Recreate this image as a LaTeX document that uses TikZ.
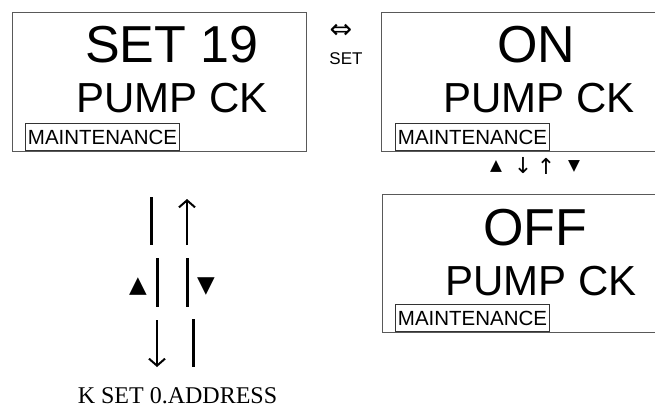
\documentclass[tikz,border=0pt]{standalone}
\usepackage{fontspec}
\setmainfont{Liberation Serif}
\setsansfont{Liberation Sans}
\newfontfamily\symfont{DejaVu Sans}
\usetikzlibrary{arrows.meta, positioning}

\tikzset{
  lcd/.style={draw=black!65, line width=1.4pt, anchor=north west},
  maint/.style={draw=black!80, line width=0.9pt, inner xsep=2.5pt, minimum height=27pt,
    anchor=south west, font=\sffamily\fontsize{20.5}{20.5}\selectfont},
  bigtxt/.style={anchor=base, font=\sffamily\fontsize{52}{52}\selectfont},
  midtxt/.style={anchor=base, font=\sffamily\fontsize{42}{42}\selectfont},
  keysym/.style={inner sep=0pt, font=\symfont\fontsize{#1}{#1}\selectfont},
  bar/.style={line width=3pt},
  arr/.style={line width=2pt, -{Straight Barb[length=7pt, width=16pt]}},
}

\begin{document}
\begin{tikzpicture}[x=1pt, y=-1pt]
  \clip (0,0) rectangle (655,409);

  % display: address
  \node[lcd, minimum width=294pt, minimum height=139pt] (setbox) at (12,12) {};
  \node[bigtxt] (setval) at (172,63) {SET 19};
  \node[midtxt] (setname) at (172,113) {PUMP CK};
  \node[maint] (setmnt) at (25,151) {MAINTENANCE};

  % SET toggles to the value
  \node[keysym=27] (swap) at (341,31) {⇔};
  \node[anchor=base, font=\sffamily\fontsize{17}{17}\selectfont] (setkey) at (346,65) {SET};

  % display: ON
  \node[lcd, minimum width=300pt, minimum height=139pt] (onbox) at (381,12) {};
  \node[bigtxt] (onval) at (536,63) {ON};
  \node[midtxt] (onname) at (539,113) {PUMP CK};
  \node[maint] (onmnt) at (395,151) {MAINTENANCE};

  % keys between ON and OFF
  \node[keysym=15.5] (upk) at (496,166) {▲};
  \node[keysym=22] (dna) at (523,166) {↓};
  \node[keysym=22] (upa) at (546,166) {↑};
  \node[keysym=15.5] (dnk) at (574,166) {▼};

  % display: OFF
  \node[lcd, minimum width=300pt, minimum height=138pt] (offbox) at (382,194) {};
  \node[bigtxt] (offval) at (535,245) {OFF};
  \node[midtxt] (offname) at (541,295) {PUMP CK};
  \node[maint] (offmnt) at (395,332) {MAINTENANCE};

  % keys to the next address
  \draw[bar] (151,197) -- (151,245);
  \draw[arr] (187,245) -- (187,199);
  \draw[bar] (157,258) -- (157,307);
  \draw[bar] (187,258) -- (187,307);
  \node[keysym=23] (upkey) at (138,287) {▲};
  \node[keysym=23] (dnkey) at (206,287) {▼};
  \draw[arr] (157,320) -- (157,367);
  \draw[bar] (193,319) -- (193,367);

  \node[anchor=base, font=\fontsize{24}{24}\selectfont] (next) at (177.5,403) {K SET 0.ADDRESS};
\end{tikzpicture}
\end{document}
